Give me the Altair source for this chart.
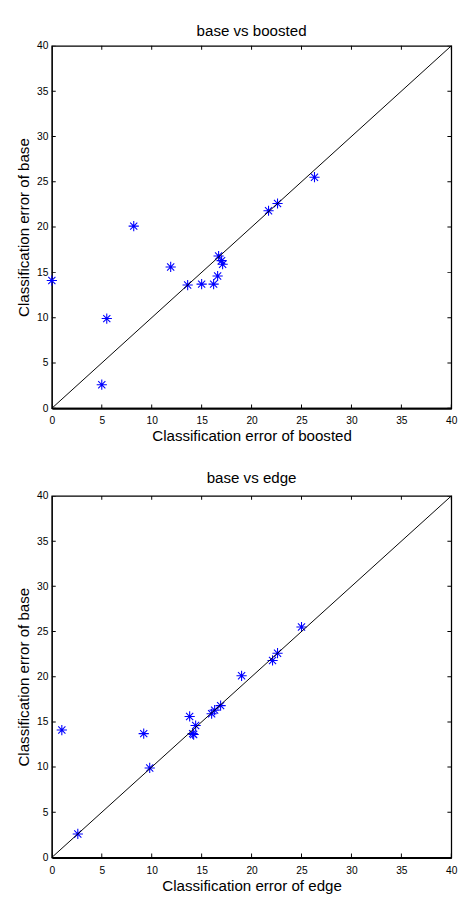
import altair as alt
import pandas as pd

# Classification errors (base on y, compared method on x)
base_err = [14.1, 2.6, 9.9, 20.1, 15.6, 13.6, 13.7, 13.7, 14.6, 16.8, 16.3, 15.9, 21.8, 22.6, 25.5]
boosted_err = [0.0, 5.0, 5.5, 8.2, 11.9, 13.6, 15.0, 16.2, 16.6, 16.7, 17.0, 17.1, 21.7, 22.6, 26.3]
edge_err = [1.0, 2.6, 9.8, 19.0, 13.8, 14.2, 9.2, 14.1, 14.4, 16.9, 16.3, 16.0, 22.1, 22.6, 25.0]
tick_values = [0, 5, 10, 15, 20, 25, 30, 35, 40]
axis_range = [0, 40]

FONT = "Liberation Sans"
ASTERISK = "M-1,0L1,0M0,-1L0,1M-0.7,-0.7L0.7,0.7M-0.7,0.7L0.7,-0.7"


def panel(xvals, xtitle, title, height, title_offset):
    df = pd.DataFrame({"x": xvals, "y": base_err})
    xs = alt.Scale(domain=axis_range, nice=False, zero=False)
    ys = alt.Scale(domain=axis_range, nice=False, zero=False)
    common = dict(values=tick_values, tickSize=0, grid=False, labelFlush=False,
                  labelFont=FONT, labelFontSize=10.5, labelColor="black",
                  titleFont=FONT, titleFontSize=15.5, titleFontWeight="normal",
                  titleColor="black", domainColor="black")
    xaxis = alt.Axis(labelPadding=8, title=xtitle, titlePadding=3, domainWidth=2, **common)
    yaxis = alt.Axis(labelPadding=4, title="Classification error of base", titlePadding=5,
                     domainWidth=1, **common)
    points = alt.Chart(df).mark_point(
        shape=ASTERISK, size=110, color="#0000ff", strokeWidth=1.1, filled=False, opacity=1
    ).encode(
        x=alt.X("x:Q", scale=xs, axis=xaxis),
        y=alt.Y("y:Q", scale=ys, axis=yaxis),
    )
    ddf = pd.DataFrame({"x": axis_range, "y": axis_range})
    line = alt.Chart(ddf).mark_line(color="black", strokeWidth=1).encode(
        x=alt.X("x:Q", scale=xs),
        y=alt.Y("y:Q", scale=ys),
    )
    tdf = pd.DataFrame({"t": tick_values, "lo": axis_range[0], "hi": axis_range[1]})
    tick_style = dict(size=8, thickness=1, color="black", clip=True, opacity=1)
    bottom_t = alt.Chart(tdf).mark_tick(orient="vertical", **tick_style).encode(
        x=alt.X("t:Q", scale=xs), y=alt.Y("lo:Q", scale=ys))
    top_t = alt.Chart(tdf).mark_tick(orient="vertical", **tick_style).encode(
        x=alt.X("t:Q", scale=xs), y=alt.Y("hi:Q", scale=ys))
    left_t = alt.Chart(tdf).mark_tick(orient="horizontal", **tick_style).encode(
        y=alt.Y("t:Q", scale=ys), x=alt.X("lo:Q", scale=xs))
    right_t = alt.Chart(tdf).mark_tick(orient="horizontal", **tick_style).encode(
        y=alt.Y("t:Q", scale=ys), x=alt.X("hi:Q", scale=xs))
    return alt.layer(points, line, bottom_t, top_t, left_t, right_t).properties(
        width=410, height=height,
        title=alt.TitleParams(title, fontSize=15.5, font=FONT, fontWeight="normal",
                              anchor="middle", frame="group", offset=title_offset,
                              color="black"),
    )


chart = alt.vconcat(
    panel(boosted_err, "Classification error of boosted", "base vs boosted", 372, 2),
    panel(edge_err, "Classification error of edge", "base vs edge", 371, 4.5),
    spacing=26,
).properties(
    padding={"top": 3, "left": 8, "right": 5, "bottom": 0}
).configure_view(
    stroke="black", strokeWidth=1.3
)

chart.save("out.html", embed_options={"renderer": "svg", "actions": False})
